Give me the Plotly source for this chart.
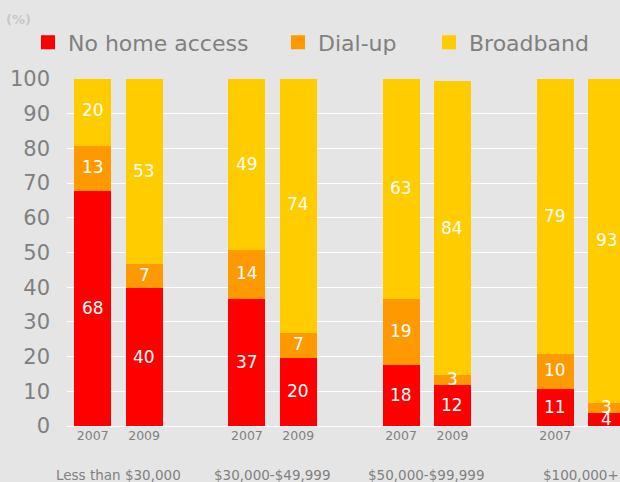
import plotly.graph_objects as go

income_groups = ["Less than $30,000", "$30,000-$49,999", "$50,000-$99,999", "$100,000+"]
years = ["2007", "2009"]
no_home_access = [68, 40, 37, 20, 18, 12, 11, 4]
dial_up = [13, 7, 14, 7, 19, 3, 10, 3]
broadband = [20, 53, 49, 74, 63, 84, 79, 93]

# bar positions: two years per group, gap between groups
xpos = []
ticktext = []
for g in range(len(income_groups)):
    for j, y in enumerate(years):
        xpos.append(g * 3 + j)
        ticktext.append(y)

GREY = "#808080"
FONT = "DejaVu Sans"
W, H = 620, 482
L, R, T, B = 67, 0, 79, 56
PW, PH = W - L - R, H - T - B

fig = go.Figure()
series = [("No home access", no_home_access, "#ff0000", "legend", 28),
          ("Dial-up", dial_up, "#ff9900", "legend2", 278),
          ("Broadband", broadband, "#ffcc00", "legend3", 429)]
base = [0] * len(xpos)
legends = {}
for name, vals, col, lg, lx in series:
    fig.add_trace(go.Bar(
        x=xpos, y=vals, name=name, legend=lg,
        marker=dict(color=col, line=dict(width=2, color=col)),
        width=0.68, hoverinfo="y+name",
    ))
    legends[lg] = dict(orientation="h", xref="container", yref="container",
                       x=lx / W, y=1 - 21.5 / H, xanchor="left", yanchor="top",
                       font=dict(size=22, color=GREY, family=FONT),
                       bgcolor="rgba(0,0,0,0)")
    # value labels centred in each segment
    for xi, b, v in zip(xpos, base, vals):
        fig.add_annotation(x=xi, y=b + v / 2, xref="x", yref="y", text=str(v),
                           showarrow=False, yanchor="middle", xanchor="center",
                           font=dict(color="white", size=17, family=FONT))
    base = [b + v for b, v in zip(base, vals)]

for g, label in enumerate(income_groups):
    fig.add_annotation(x=g * 3 + 0.5, y=-(475 - (H - B)) / PH, xref="x", yref="paper",
                       text=label, showarrow=False,
                       font=dict(size=13.5, color=GREY, family=FONT),
                       yanchor="middle")

fig.add_annotation(x=(4 - L) / PW, y=((H - B) - 20) / PH, xref="paper", yref="paper",
                   yanchor="middle", xanchor="left", showarrow=False,
                   text="<b>(%)</b>", font=dict(size=13, color="#c8c8c8", family=FONT))

fig.update_layout(
    width=W, height=H,
    margin=dict(l=L, r=R, t=T, b=B, autoexpand=False),
    paper_bgcolor="#e5e5e5", plot_bgcolor="#e5e5e5",
    barmode="stack", bargap=0,
    font=dict(family=FONT, color=GREY),
    showlegend=True,
    **legends,
    xaxis=dict(range=[-0.5, 10.26], tickvals=xpos, ticktext=ticktext,
               tickfont=dict(size=12.5, color=GREY, family=FONT),
               showgrid=False, zeroline=False, showline=False, ticks=""),
    yaxis=dict(range=[0, 100], tickvals=list(range(0, 101, 10)),
               tickfont=dict(size=21, color=GREY, family=FONT),
               showgrid=True, gridcolor="white", gridwidth=1,
               zeroline=True, zerolinecolor="white", zerolinewidth=1,
               ticks="", ticklabelstandoff=16),
)

fig.write_html("out.html", config={"displayModeBar": False},
               post_script="document.body.style.margin='0';")
